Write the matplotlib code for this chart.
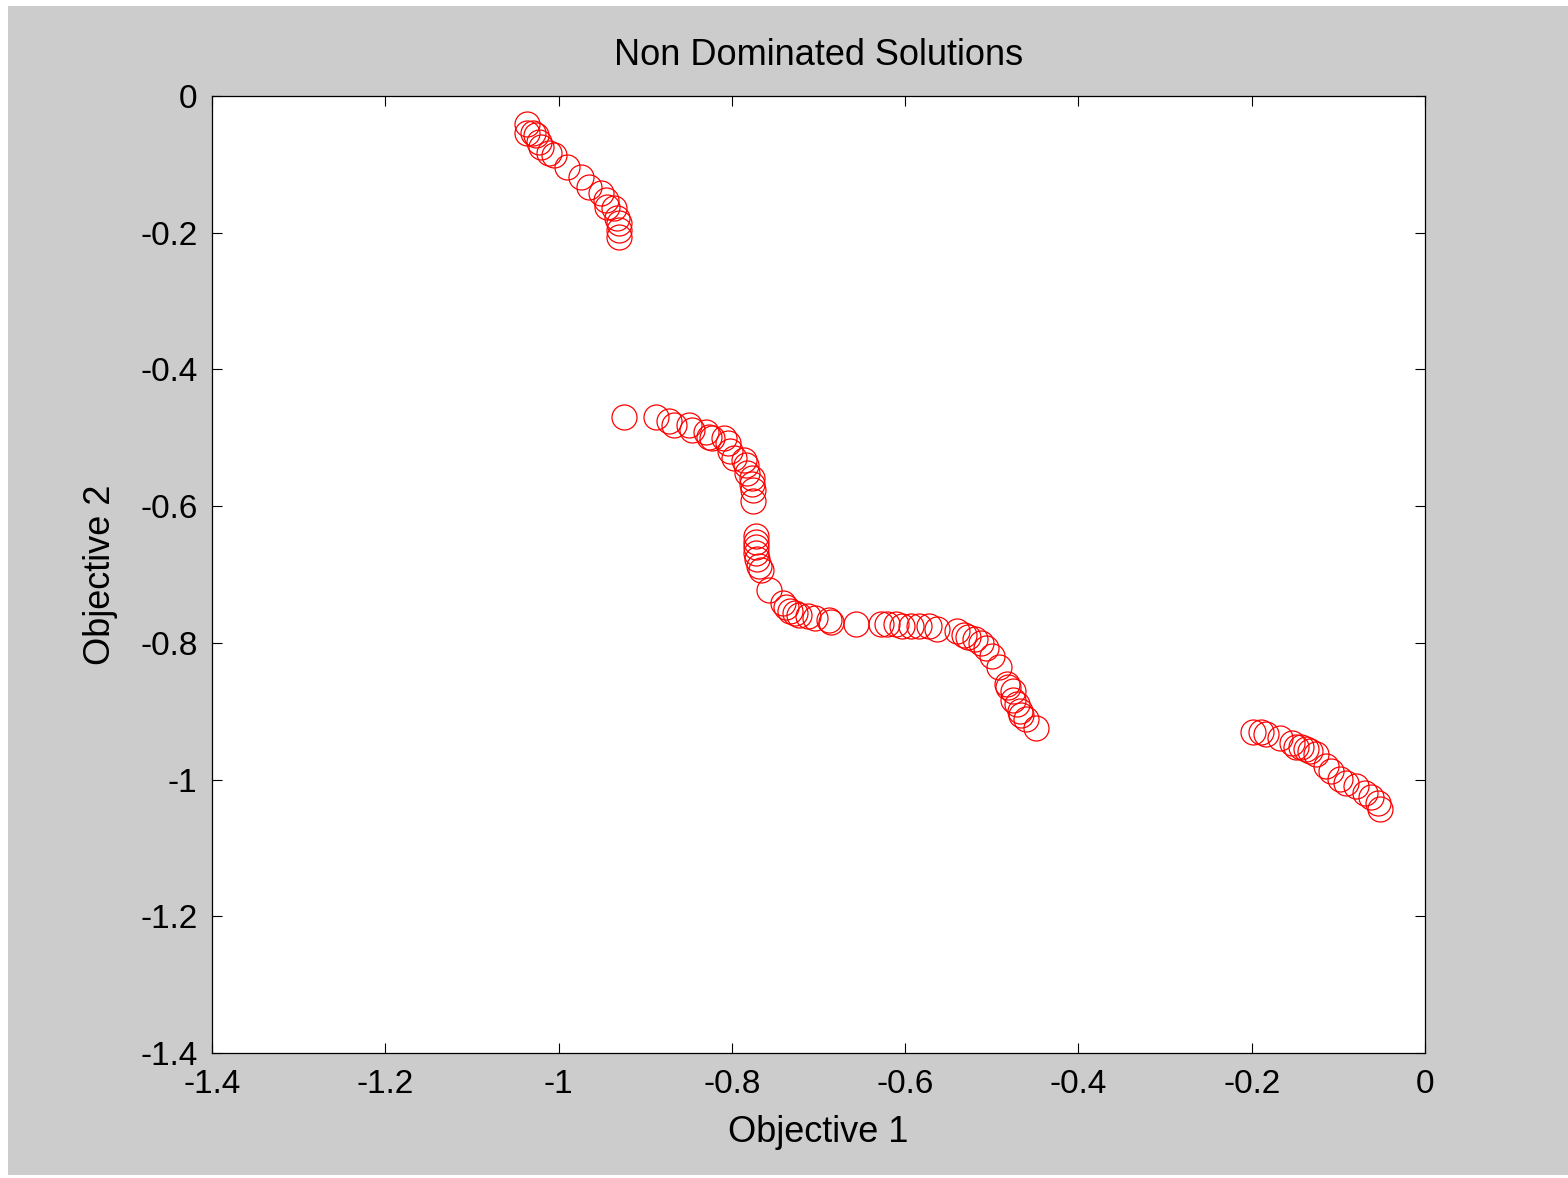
import matplotlib
matplotlib.use("Agg")
import matplotlib.pyplot as plt
from matplotlib.patches import Rectangle

# Objective values
obj1 = [
    # upper-left cluster
    -1.037, -1.036, -1.030, -1.026, -1.023, -1.020, -1.011, -1.005, -0.990, -0.974,
    -0.965, -0.951, -0.945, -0.944, -0.936, -0.932, -0.930, -0.930, -0.930,
    # middle cluster, upper part
    -0.924, -0.888, -0.872, -0.867, -0.850, -0.846, -0.830, -0.826, -0.823, -0.809,
    -0.805, -0.802, -0.797, -0.786, -0.784, -0.782, -0.777, -0.777, -0.776, -0.776,
    # middle cluster, lower part
    -0.772, -0.772, -0.772, -0.772, -0.771, -0.769, -0.766, -0.757, -0.741, -0.738,
    -0.733, -0.727, -0.722, -0.712, -0.704, -0.688, -0.686, -0.657, -0.628, -0.621,
    -0.611, -0.604, -0.593, -0.584, -0.573, -0.563, -0.540, -0.532, -0.527, -0.519,
    -0.513, -0.507, -0.500, -0.492, -0.483, -0.481, -0.475, -0.475, -0.471, -0.467,
    -0.466, -0.460, -0.449,
    # lower-right cluster
    -0.198, -0.189, -0.183, -0.167, -0.154, -0.149, -0.143, -0.137, -0.133, -0.126,
    -0.114, -0.108, -0.098, -0.091, -0.080, -0.069, -0.062, -0.054, -0.052,
]
obj2 = [
    -0.041, -0.054, -0.054, -0.057, -0.067, -0.075, -0.083, -0.086, -0.104, -0.119,
    -0.133, -0.142, -0.152, -0.163, -0.164, -0.179, -0.186, -0.196, -0.206,
    -0.469, -0.469, -0.476, -0.482, -0.482, -0.489, -0.492, -0.499, -0.501, -0.501,
    -0.508, -0.520, -0.529, -0.533, -0.540, -0.551, -0.559, -0.568, -0.577, -0.592,
    -0.644, -0.653, -0.660, -0.669, -0.678, -0.687, -0.694, -0.722, -0.742, -0.748,
    -0.753, -0.757, -0.759, -0.761, -0.764, -0.767, -0.770, -0.772, -0.772, -0.772,
    -0.772, -0.775, -0.775, -0.776, -0.776, -0.779, -0.782, -0.789, -0.792, -0.794,
    -0.800, -0.807, -0.819, -0.835, -0.860, -0.865, -0.870, -0.884, -0.889, -0.899,
    -0.906, -0.911, -0.925,
    -0.931, -0.931, -0.933, -0.939, -0.946, -0.953, -0.953, -0.955, -0.958, -0.962,
    -0.980, -0.987, -0.999, -1.005, -1.009, -1.019, -1.026, -1.035, -1.043,
]

ticks = [-1.4, -1.2, -1.0, -0.8, -0.6, -0.4, -0.2, 0.0]
tick_labels = ["-1.4", "-1.2", "-1", "-0.8", "-0.6", "-0.4", "-0.2", "0"]

plt.rcParams['font.family'] = ['Liberation Sans', 'DejaVu Sans']

W, H = 1568, 1178
fig = plt.figure(figsize=(W / 100, H / 100), dpi=100, facecolor='white')
fig.patches.append(Rectangle((8 / W, 1 - 1175 / H), (W - 8) / W, (1175 - 6) / H,
                             transform=fig.transFigure, facecolor='#cccccc',
                             edgecolor='none', zorder=-10))

ax = fig.add_axes([212 / W, 1 - 1053 / H, (1425 - 212) / W, (1053 - 96) / H])
ax.set_facecolor('white')
ax.plot(obj1, obj2, linestyle='none', marker='o', markersize=18,
        markerfacecolor='none', markeredgecolor='red', markeredgewidth=0.9)

ax.set_xlim(-1.4, 0)
ax.set_ylim(-1.4, 0)
ax.set_xticks(ticks)
ax.set_xticklabels(tick_labels)
ax.set_yticks(ticks)
ax.set_yticklabels(tick_labels)
ax.tick_params(direction='in', length=7, width=0.8, top=True, right=True,
               labelsize=24, colors='black')
ax.tick_params(axis='x', pad=11.5)
ax.tick_params(axis='y', pad=10.5)
for s in ax.spines.values():
    s.set_color('black')
    s.set_linewidth(0.9)

ax.set_title("Non Dominated Solutions", fontsize=26, pad=22)
ax.set_xlabel("Objective 1", fontsize=26, labelpad=11)
ax.set_ylabel("Objective 2", fontsize=26, labelpad=16)

fig.savefig("out.png", dpi=100, facecolor='white')
